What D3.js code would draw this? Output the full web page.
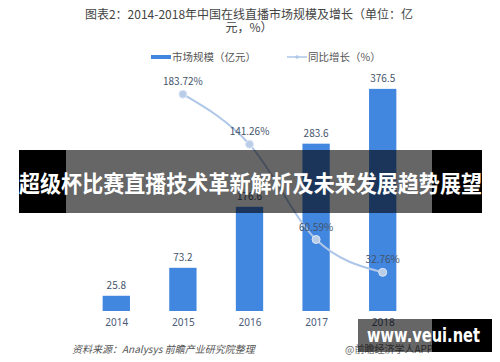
<!DOCTYPE html>
<html>
<head>
<meta charset="utf-8">
<script src="https://cdn.jsdelivr.net/npm/d3@7"></script>
<style>
  html, body { margin: 0; padding: 0; background: #fff; }
  svg { display: block; font-family: "Noto Sans CJK SC", "Noto Sans", sans-serif; }
</style>
</head>
<body>
<svg id="chart" width="500" height="362"></svg>
<script>
'use strict';

// data
const years = ['2014', '2015', '2016', '2017', '2018'];
const marketSize = [25.8, 73.2, 176.6, 283.6, 376.5];
const growth = [null, 183.72, 141.26, 60.59, 32.76];
const growthLabels = ['', '183.72%', '141.26%', '60.59%', '32.76%'];

const svg = d3.select('#chart');
const baseY = 311, topY = 75;

const x = d3.scalePoint().domain(years).range([83, 416]).padding(0.5);
const yBar = d3.scaleLinear().domain([0, 400]).range([baseY, topY]);
const yLine = d3.scaleLinear().domain([0, 200]).range([baseY, topY]);
const barW = x.step() * 0.41;

const blue = '#4186df', lineBlue = '#aec6e8', labelCol = '#44546a';

// title
const title = svg.append('g').attr('fill', '#444').attr('font-size', 12).attr('text-anchor', 'middle');
title.append('text').attr('x', 249).attr('y', 19).text('图表2：2014-2018年中国在线直播市场规模及增长（单位：亿');
title.append('text').attr('x', 249).attr('y', 32).text('元，%）');

// legend
const lg = svg.append('g').attr('font-size', 10.5).attr('fill', '#555');
lg.append('rect').attr('x', 151).attr('y', 55).attr('width', 20).attr('height', 4).attr('fill', blue);
lg.append('text').attr('x', 172).attr('y', 61).text('市场规模（亿元）');
lg.append('line').attr('x1', 287).attr('x2', 307).attr('y1', 57).attr('y2', 57)
  .attr('stroke', lineBlue).attr('stroke-width', 1.5);
lg.append('circle').attr('cx', 297).attr('cy', 57).attr('r', 1.8).attr('fill', lineBlue);
lg.append('text').attr('x', 308).attr('y', 61).text('同比增长（%）');

// bars
svg.append('g').selectAll('rect')
  .data(years)
  .join('rect')
  .attr('x', (d) => x(d) - barW / 2)
  .attr('y', (d, i) => yBar(marketSize[i]))
  .attr('width', barW)
  .attr('height', (d, i) => baseY - yBar(marketSize[i]))
  .attr('fill', blue);

svg.append('g').attr('font-size', 10).attr('fill', labelCol).attr('text-anchor', 'middle')
  .selectAll('text')
  .data(years)
  .join('text')
  .attr('x', (d) => x(d))
  .attr('y', (d, i) => yBar(marketSize[i]) - 7)
  .text((d, i) => marketSize[i]);

// x axis labels
svg.append('g')
  .attr('transform', `translate(0,${baseY})`)
  .call(d3.axisBottom(x).tickSize(0).tickPadding(8))
  .call((g) => g.select('.domain').remove())
  .call((g) => g.selectAll('text').attr('font-size', 10).attr('fill', '#4a5a78')
    .attr('font-family', '"Noto Sans", sans-serif'));

// growth line
const pts = years.map((d, i) => ({ year: d, v: growth[i], label: growthLabels[i] })).filter((p) => p.v !== null);
const line = d3.line().x((p) => x(p.year)).y((p) => yLine(p.v)).curve(d3.curveMonotoneX);
svg.append('path').datum(pts).attr('d', line)
  .attr('fill', 'none').attr('stroke', lineBlue).attr('stroke-width', 2);
svg.append('g').selectAll('circle').data(pts).join('circle')
  .attr('cx', (p) => x(p.year)).attr('cy', (p) => yLine(p.v)).attr('r', 4)
  .attr('fill', '#b9cde9').attr('stroke', '#dfe8f5').attr('stroke-width', 1);
svg.append('g').attr('font-size', 10).attr('fill', labelCol).attr('text-anchor', 'middle')
  .selectAll('text').data(pts).join('text')
  .attr('x', (p) => x(p.year)).attr('y', (p) => yLine(p.v) - 9)
  .text((p) => p.label);

// source
svg.append('text').attr('x', 72).attr('y', 353).attr('font-size', 10).attr('font-style', 'italic')
  .attr('fill', '#555').text('资料来源：Analysys  前瞻产业研究院整理');
svg.append('text').attr('x', 345).attr('y', 353).attr('font-size', 10)
  .attr('fill', '#666').text('@前瞻经济学人APP');

// headline banner: opaque black sides, translucent middle over the chart
svg.append('rect').attr('x', 19).attr('y', 150).attr('width', 47).attr('height', 63).attr('fill', '#000');
svg.append('rect').attr('x', 432).attr('y', 150).attr('width', 50).attr('height', 63).attr('fill', '#000');
svg.append('rect').attr('x', 66).attr('y', 150).attr('width', 366).attr('height', 63)
  .attr('fill', '#000').attr('fill-opacity', 0.6);
svg.append('text').attr('x', 250.5).attr('y', 192).attr('text-anchor', 'middle')
  .attr('font-size', 23).attr('font-weight', 'bold').attr('fill', '#fff')
  .attr('textLength', 463).attr('lengthAdjust', 'spacingAndGlyphs')
  .text('超级杯比赛直播技术革新解析及未来发展趋势展望');

// site watermark, bottom right
svg.append('rect').attr('x', 358).attr('y', 319).attr('width', 74).attr('height', 33)
  .attr('fill', '#000').attr('fill-opacity', 0.6);
svg.append('rect').attr('x', 432).attr('y', 319).attr('width', 60).attr('height', 33).attr('fill', '#000');
svg.append('text').attr('x', 367).attr('y', 342).attr('font-size', 20).attr('font-weight', 'bold')
  .attr('fill', '#fff').attr('font-family', '"DejaVu Sans", sans-serif')
  .attr('textLength', 113).attr('lengthAdjust', 'spacingAndGlyphs')
  .text('www.veui.net');
</script>
</body>
</html>
